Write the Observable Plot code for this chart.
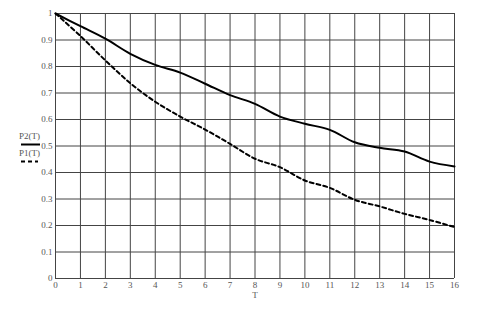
<!DOCTYPE html>
<html>
<head>
<meta charset="utf-8">
<script src="https://cdn.jsdelivr.net/npm/d3@7"></script>
<script src="https://cdn.jsdelivr.net/npm/@observablehq/plot@0.6"></script>
<style>
  html, body { margin: 0; padding: 0; background: #fff; }
  #wrap { position: relative; width: 494px; height: 319px; }
  #legend { position: absolute; left: 19px; top: 132px; font-family: "Liberation Serif", serif; font-size: 9px; color: #555; line-height: 1; }
  #legend .lbl { display: block; height: 10px; }
  #legend svg { display: block; }
</style>
</head>
<body>
<div id="wrap">
  <div id="chart"></div>
  <div id="legend">
    <span class="lbl">P2(T)</span>
    <svg width="24" height="5"><line x1="2" x2="21" y1="2.5" y2="2.5" stroke="#000" stroke-width="2"/></svg>
    <span class="lbl" style="margin-top:2px">P1(T)</span>
    <svg width="24" height="5"><line x1="2" x2="19" y1="2.5" y2="2.5" stroke="#000" stroke-width="2" stroke-dasharray="4,3"/></svg>
  </div>
</div>
<script>
const T = [0, 1, 2, 3, 4, 5, 6, 7, 8, 9, 10, 11, 12, 13, 14, 15, 16];
const P2 = [1, 0.952, 0.905, 0.848, 0.806, 0.777, 0.735, 0.692, 0.659, 0.611, 0.584, 0.561, 0.514, 0.493, 0.479, 0.441, 0.423];
const P1 = [1, 0.915, 0.823, 0.737, 0.667, 0.611, 0.562, 0.508, 0.452, 0.42, 0.37, 0.342, 0.297, 0.272, 0.244, 0.221, 0.194];
const xTicks = T;
const yTicks = [0, 0.1, 0.2, 0.3, 0.4, 0.5, 0.6, 0.7, 0.8, 0.9, 1];

const rows2 = T.map((t, i) => ({T: t, P: P2[i]}));
const rows1 = T.map((t, i) => ({T: t, P: P1[i]}));

const chart = Plot.plot({
  width: 494,
  height: 319,
  marginLeft: 55,
  marginRight: 40,
  marginTop: 13,
  marginBottom: 41,
  style: {fontFamily: "Liberation Serif, serif", fontSize: "9px", color: "#555", background: "#fff"},
  x: {domain: [0, 16]},
  y: {domain: [0, 1]},
  marks: [
    Plot.ruleX(xTicks, {stroke: "#444", strokeWidth: 1}),
    Plot.ruleY(yTicks, {stroke: "#444", strokeWidth: 1}),
    Plot.axisX({ticks: xTicks, tickSize: 0, tickPadding: 3, fill: "#555", tickFormat: d => String(d), label: "T", labelAnchor: "center", labelArrow: "none", labelOffset: 19}),
    Plot.axisY({ticks: yTicks, tickSize: 0, tickPadding: 3, fill: "#555", tickFormat: d => String(d), label: null}),
    Plot.line(rows2, {x: "T", y: "P", stroke: "#000", strokeWidth: 2, curve: "catmull-rom"}),
    Plot.line(rows1, {x: "T", y: "P", stroke: "#000", strokeWidth: 2, strokeDasharray: "4,3", curve: "catmull-rom"})
  ]
});
document.getElementById("chart").appendChild(chart);
</script>
</body>
</html>
